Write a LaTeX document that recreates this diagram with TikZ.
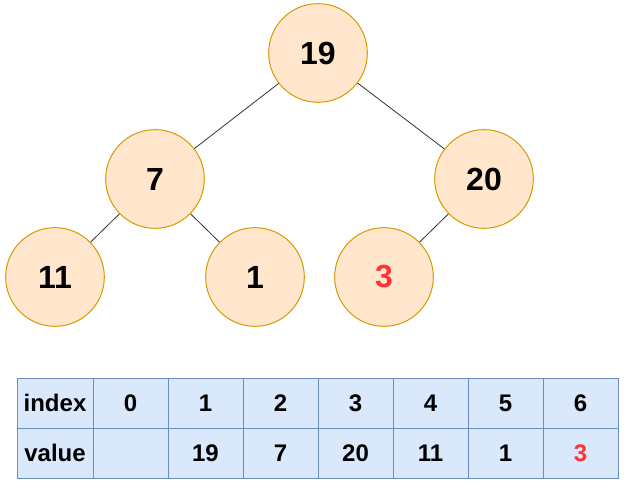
\documentclass[tikz,border=0pt]{standalone}
\usepackage{fontspec}
\setmainfont{Liberation Sans}
\definecolor{heapfill}{RGB}{255,230,204}
\definecolor{heapdraw}{RGB}{215,155,0}
\definecolor{cellfill}{RGB}{218,232,252}
\definecolor{celldraw}{RGB}{108,142,191}
\definecolor{hot}{RGB}{255,51,51}
\tikzset{
  heapnode/.style={circle,draw=heapdraw,fill=heapfill,line width=0.75pt,minimum size=74pt,inner sep=0pt,font=\fontsize{24}{28}\selectfont\bfseries},
  cell/.style={rectangle,draw=celldraw,fill=cellfill,line width=0.75pt,minimum width=56.25pt,minimum height=37.5pt,inner sep=0pt,outer sep=0pt,font=\fontsize{18}{21}\selectfont\bfseries},
  headcell/.style={cell,minimum width=57pt},
  link/.style={draw=black!80,line width=0.6pt}
}
\begin{document}
\begin{tikzpicture}[x=0.75pt,y=0.75pt,yscale=-1]
\useasboundingbox (0,0) rectangle (639,495);

%Heap nodes
\node[heapnode] (n19) at (318,53) {19};
\node[heapnode] (n7) at (155,179) {7};
\node[heapnode] (n20) at (484,179) {20};
\node[heapnode] (n11) at (55,277) {11};
\node[heapnode] (n1) at (255,277) {1};
\node[heapnode,text=hot] (n3) at (384,277) {3};

%Edges
\draw[link] (n19) -- (n7);
\draw[link] (n19) -- (n20);
\draw[link] (n7) -- (n11);
\draw[link] (n7) -- (n1);
\draw[link] (n20) -- (n3);

%Array, index row
\node[headcell] (idx) at (55,403) {index};
\node[cell] (i0) at (130.5,403) {0};
\node[cell] (i1) at (205.5,403) {1};
\node[cell] (i2) at (280.5,403) {2};
\node[cell] (i3) at (355.5,403) {3};
\node[cell] (i4) at (430.5,403) {4};
\node[cell] (i5) at (505.5,403) {5};
\node[cell] (i6) at (580.5,403) {6};

%Array, value row
\node[headcell] (val) at (55,453) {value};
\node[cell] (v0) at (130.5,453) {};
\node[cell] (v1) at (205.5,453) {19};
\node[cell] (v2) at (280.5,453) {7};
\node[cell] (v3) at (355.5,453) {20};
\node[cell] (v4) at (430.5,453) {11};
\node[cell] (v5) at (505.5,453) {1};
\node[cell,text=hot] (v6) at (580.5,453) {3};

\end{tikzpicture}
\end{document}
